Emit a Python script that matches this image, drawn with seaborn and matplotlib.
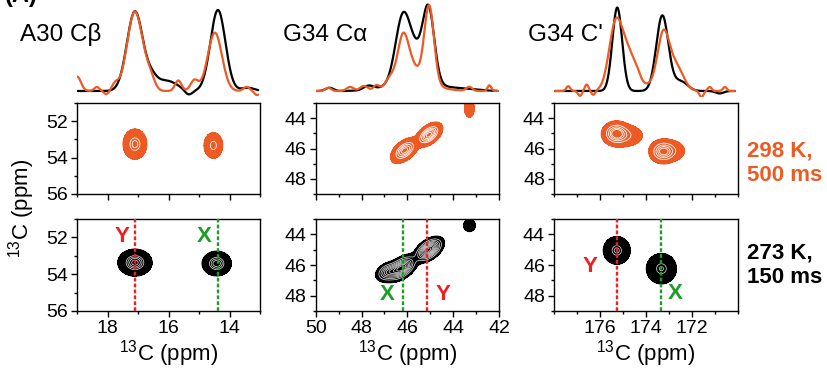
import numpy as np
import pandas as pd
import matplotlib
matplotlib.use("Agg")
import matplotlib.pyplot as plt
import seaborn as sns

sns.set_style("ticks")
plt.rcParams["font.family"] = ["Liberation Sans", "DejaVu Sans"]
plt.rcParams["mathtext.fontset"] = "custom"
plt.rcParams["mathtext.rm"] = "Liberation Sans"
plt.rcParams["mathtext.it"] = "Liberation Sans:italic"
plt.rcParams["mathtext.bf"] = "Liberation Sans:bold"
plt.rcParams["mathtext.default"] = "regular"
for key in ["text.color", "axes.labelcolor", "xtick.color", "ytick.color",
            "xtick.labelcolor", "ytick.labelcolor", "axes.edgecolor"]:
    plt.rcParams[key] = "black"

ORANGE = "#EE5A24"
BLACK = "#000000"
RED = "#EE2020"
GREEN = "#1E9E28"

# ---------------------------------------------------------------- panels
TITLES = ["A30 Cβ", "G34 Cα", "G34 C'"]
X_LIMITS = [(19, 13), (50, 42), (178, 170)]
Y_LIMITS = [(56, 51), (49, 43), (49, 43)]
X_TICKS = [[18, 16, 14], [50, 48, 46, 44, 42], [176, 174, 172]]
Y_TICKS = [[52, 54, 56], [44, 46, 48], [44, 46, 48]]
SPECTRUM_SPAN = [(18.99, 13.06), (49.96, 42.06), (177.96, 170.13)]

# ------------------------------------------------ 1D slices (ppm, height, FWHM)
A30_1D_273 = [(17.10, 0.98, 0.62), (16.55, 0.10, 0.40), (16.10, 0.13, 0.90),
              (15.35, -0.06, 0.30), (14.38, 1.00, 0.58), (13.40, 0.04, 0.50)]
A30_1D_298 = [(19.00, 0.18, 0.30), (18.35, 0.05, 0.20), (18.03, -0.04, 0.20),
              (17.75, 0.08, 0.25), (17.10, 0.98, 0.60), (16.60, 0.14, 0.35),
              (15.68, 0.13, 0.25), (15.15, 0.13, 0.30), (14.48, 0.72, 0.55),
              (13.44, 0.05, 0.25), (13.10, -0.05, 0.20)]

G34CA_1D_273 = [(49.40, 0.04, 0.40), (47.70, 0.05, 0.50), (46.20, 0.81, 0.75),
                (45.65, 0.28, 0.70), (45.08, 0.915, 0.60), (45.70, 0.12, 2.40),
                (43.50, 0.02, 1.50)]
G34CA_1D_298 = [(49.45, 0.04, 0.30), (48.50, 0.05, 0.35), (47.90, 0.06, 0.40),
                (47.35, 0.06, 0.30), (46.75, 0.12, 0.50), (46.20, 0.55, 0.55),
                (45.80, 0.20, 0.70), (45.05, 0.97, 0.50), (45.60, 0.10, 2.00),
                (43.30, 0.05, 0.30), (42.42, 0.07, 0.20)]

G34C_1D_273 = [(175.25, 1.03, 0.50), (173.29, 0.93, 0.62), (172.50, 0.12, 0.70),
               (170.80, -0.03, 0.40)]
G34C_1D_298 = [(177.38, 0.06, 0.20), (176.87, -0.06, 0.20), (176.58, 0.08, 0.20),
               (176.29, -0.05, 0.20), (175.30, 0.85, 0.70), (174.75, 0.33, 0.60),
               (174.40, 0.10, 0.40), (174.20, 0.08, 1.50), (173.25, 0.66, 0.60),
               (172.70, 0.30, 0.75), (171.59, -0.08, 0.20), (171.23, 0.05, 0.20),
               (170.57, 0.05, 0.20)]

SLICES_273 = [A30_1D_273, G34CA_1D_273, G34C_1D_273]
SLICES_298 = [A30_1D_298, G34CA_1D_298, G34C_1D_298]

# ------------------- 2D cross peaks (x ppm, y ppm, sigma x, sigma y, corr, amplitude)
A30_2D_298 = [(17.10, 53.26, 0.16, 0.34, 0.0, 1.00),
              (14.53, 53.33, 0.13, 0.30, 0.0, 0.80)]
A30_2D_273 = [(17.10, 53.37, 0.23, 0.30, 0.0, 1.00),
              (14.42, 53.42, 0.20, 0.28, 0.0, 0.90)]
G34CA_2D_298 = [(46.12, 46.13, 0.26, 0.36, 0.5, 0.85),
                (45.06, 45.09, 0.25, 0.34, 0.5, 1.00),
                (43.29, 43.35, 0.12, 0.33, 0.0, 0.25)]
G34CA_2D_273 = [(46.25, 46.20, 0.30, 0.38, 0.5, 0.90),
                (45.06, 45.00, 0.28, 0.36, 0.5, 1.00),
                (46.85, 46.45, 0.25, 0.30, 0.3, 0.50),
                (43.29, 43.42, 0.18, 0.28, 0.0, 0.14)]
G34C_2D_298 = [(175.30, 45.00, 0.25, 0.33, 0.0, 1.00),
               (174.95, 45.15, 0.40, 0.36, 0.0, 0.35),
               (173.27, 46.20, 0.25, 0.33, 0.0, 0.90),
               (172.95, 46.15, 0.33, 0.35, 0.0, 0.30)]
G34C_2D_273 = [(175.27, 45.05, 0.24, 0.37, 0.0, 1.00),
               (173.33, 46.24, 0.27, 0.41, 0.0, 0.95)]

PEAKS_298 = [A30_2D_298, G34CA_2D_298, G34C_2D_298]
PEAKS_273 = [A30_2D_273, G34CA_2D_273, G34C_2D_273]

# assigned conformer positions: X (green) and Y (red)
MARK_X_PPM = [14.38, 46.19, 173.36]
MARK_Y_PPM = [17.10, 45.13, 175.27]
LABEL_X_AT = [(14.84, 51.95), (46.89, 47.95), (172.74, 47.84)]
LABEL_Y_AT = [(17.53, 51.95), (44.45, 47.95), (176.43, 46.08)]

CONDITIONS = ["298 K,\n500 ms", "273 K,\n150 ms"]

# contour styling
FLOOR = 0.05
RINGS_298 = [[0.6, 0.85], [0.3, 0.45, 0.6, 0.75, 0.9], [0.3, 0.5, 0.7, 0.88]]
RINGS_273 = [[0.45, 0.6, 0.75, 0.9],
             [0.15, 0.25, 0.35, 0.45, 0.55, 0.65, 0.75, 0.85, 0.95],
             [0.7, 0.9]]

W, H = 827, 370
fig = plt.figure(figsize=(W / 100, H / 100), dpi=100)


def box(left, top, right, bottom):
    return [left / W, 1 - bottom / H, (right - left) / W, (bottom - top) / H]


COL_PX = [(77, 260), (315.7, 499), (554, 738)]
TITLE_PX = [20, 283, 528]
ROW_1D = (3, 97)
ROW_298 = (103, 194)
ROW_273 = (219, 311)


def lineshape(x, comps):
    y = np.zeros_like(x)
    for c, h, w in comps:
        y += h * np.exp(-4 * np.log(2) * ((x - c) / w) ** 2)
    return y


def surface(peaks, xlim, ylim):
    xs = np.linspace(min(xlim), max(xlim), 500)
    ys = np.linspace(min(ylim), max(ylim), 400)
    X, Y = np.meshgrid(xs, ys)
    Z = np.zeros_like(X)
    for x0, y0, sx, sy, rho, amp in peaks:
        u = (X - x0) / sx
        v = (Y - y0) / sy
        q = (u * u - 2 * rho * u * v + v * v) / (1 - rho * rho)
        Z += amp * np.exp(-0.5 * q)
    return X, Y, Z


def style_2d(ax, i, show_xlabels):
    ax.set_xlim(*X_LIMITS[i])
    ax.set_ylim(*Y_LIMITS[i])
    ax.set_xticks(X_TICKS[i])
    ax.set_yticks(Y_TICKS[i])
    ax.xaxis.set_minor_locator(matplotlib.ticker.MultipleLocator(1))
    ax.yaxis.set_minor_locator(matplotlib.ticker.MultipleLocator(1))
    ax.tick_params(which="both", direction="out", width=1.0, color="black",
                   labelcolor="black", labelsize=14, pad=2)
    ax.tick_params(which="major", length=4.5)
    ax.tick_params(which="minor", length=2.5)
    ax.tick_params(axis="x", labelbottom=show_xlabels)
    for s in ax.spines.values():
        s.set_visible(True)
        s.set_linewidth(1.0)
        s.set_color("black")


def draw_peaks(ax, peaks, i, color, rings, ring_color, ring_lw):
    X, Y, Z = surface(peaks, X_LIMITS[i], Y_LIMITS[i])
    ax.contourf(X, Y, Z, levels=[FLOOR, Z.max() + 1], colors=[color])
    ax.contour(X, Y, Z, levels=[FLOOR], colors=[color], linewidths=0.8)
    ax.contour(X, Y, Z, levels=rings, colors=[ring_color], linewidths=ring_lw)


for i in range(3):
    l, r = COL_PX[i]

    # 1D slices above each column
    ax1 = fig.add_axes(box(l, ROW_1D[0], r, ROW_1D[1]))
    x = np.linspace(SPECTRUM_SPAN[i][0], SPECTRUM_SPAN[i][1], 900)
    df = pd.concat([
        pd.DataFrame({"ppm": x, "intensity": lineshape(x, SLICES_273[i]), "T": "273 K"}),
        pd.DataFrame({"ppm": x, "intensity": lineshape(x, SLICES_298[i]), "T": "298 K"}),
    ])
    sns.lineplot(data=df, x="ppm", y="intensity", hue="T", hue_order=["273 K", "298 K"],
                 palette={"273 K": BLACK, "298 K": ORANGE}, legend=False, sort=False,
                 linewidth=1.6, ax=ax1)
    ax1.set_xlim(*X_LIMITS[i])
    ax1.set_ylim(-0.074, 1.086)
    ax1.axis("off")

    # 298 K, 500 ms
    ax2 = fig.add_axes(box(l, ROW_298[0], r, ROW_298[1]))
    draw_peaks(ax2, PEAKS_298[i], i, ORANGE, RINGS_298[i], "white", 0.6)
    style_2d(ax2, i, False)
    ax2.set_xlabel("")
    ax2.set_ylabel("")

    # 273 K, 150 ms
    ax3 = fig.add_axes(box(l, ROW_273[0], r, ROW_273[1]))
    draw_peaks(ax3, PEAKS_273[i], i, BLACK, RINGS_273[i], "#e6e6e6", 0.5)
    dash = (0, (1.6, 0.9))
    ax3.axvline(MARK_Y_PPM[i], color=RED, lw=1.7, ls=dash, zorder=5)
    ax3.axvline(MARK_X_PPM[i], color=GREEN, lw=1.7, ls=dash, zorder=5)
    ax3.text(*LABEL_Y_AT[i], "Y", color=RED, fontsize=16, fontweight="bold",
             ha="center", va="center", zorder=6)
    ax3.text(*LABEL_X_AT[i], "X", color=GREEN, fontsize=16, fontweight="bold",
             ha="center", va="center", zorder=6)
    style_2d(ax3, i, True)
    ax3.set_xlabel("$^{13}$C (ppm)", fontsize=16, labelpad=1)
    ax3.set_ylabel("")

    fig.text(TITLE_PX[i] / W, 1 - 35 / H, TITLES[i], fontsize=17.5,
             ha="left", va="center")

fig.text(22 / W, 1 - 208 / H, "$^{13}$C (ppm)", fontsize=16, rotation=90,
         ha="center", va="center")
fig.text(747 / W, 1 - 163 / H, CONDITIONS[0], color=ORANGE, fontsize=16,
         fontweight="bold", ha="left", va="center", linespacing=1.2)
fig.text(747 / W, 1 - 265 / H, CONDITIONS[1], color=BLACK, fontsize=16,
         fontweight="bold", ha="left", va="center", linespacing=1.2)
fig.text(5 / W, 1 - 2 / H, "(A)", fontsize=17, fontweight="bold",
         ha="left", va="baseline")

fig.savefig("out.png", dpi=100)
